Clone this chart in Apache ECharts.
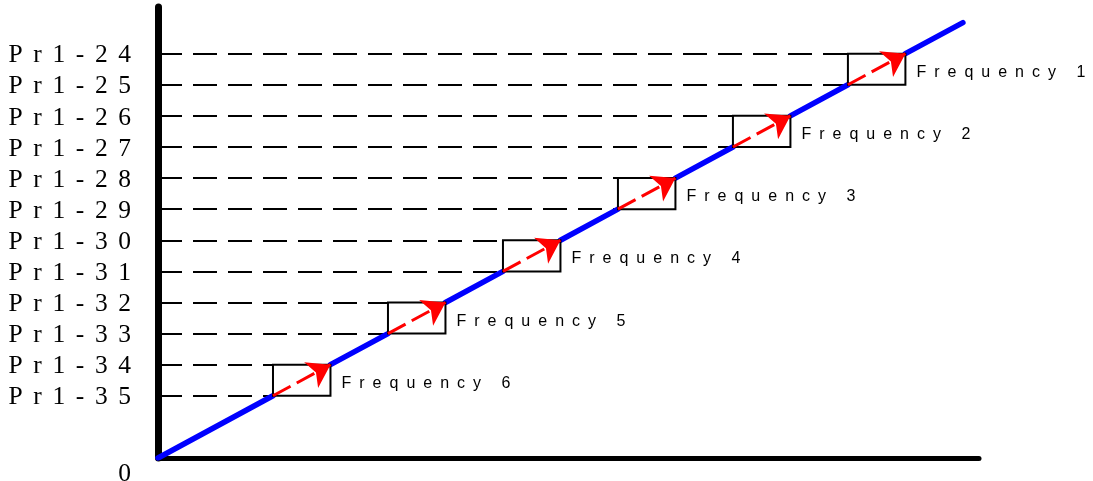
<!DOCTYPE html>
<html>
<head>
<meta charset="utf-8">
<script src="https://cdn.jsdelivr.net/npm/echarts@6/dist/echarts.min.js"></script>
<style>
  html, body { margin: 0; padding: 0; background: #fff; }
  #stepChart { width: 1093px; height: 481px; }
</style>
</head>
<body>
<div id="stepChart"></div>
<script>
// channel levels on the y axis (level 2 = Pr1-35 ... level 13 = Pr1-24)
const yLabels = ['Pr1-35', 'Pr1-34', 'Pr1-33', 'Pr1-32', 'Pr1-31', 'Pr1-30',
                 'Pr1-29', 'Pr1-28', 'Pr1-27', 'Pr1-26', 'Pr1-25', 'Pr1-24'];
const yLevels = [2, 3, 4, 5, 6, 7, 8, 9, 10, 11, 12, 13];
// lower level of each frequency step box
const boxLow = [2, 4, 6, 8, 10, 12];
const freqNames = ['Frequency 6', 'Frequency 5', 'Frequency 4', 'Frequency 3', 'Frequency 2', 'Frequency 1'];
const rampEnd = 14;

const serifFont = '"Liberation Serif", "Times New Roman", serif';

// wide letter spacing like the original drawing
function spaced(s, gap) {
    return s.split('').join(gap);
}

// blue ramp, broken where the step boxes sit
let blueSegs = [];
let start = 0;
boxLow.forEach(function (L) {
    blueSegs.push({ coords: [[start, start], [L, L]] });
    start = L + 1;
});
blueSegs.push({ coords: [[start, start], [rampEnd, rampEnd]] });

// dashed guides from the axis to the left side of the matching box
let guides = yLevels.map(function (v) {
    let left = boxLow.filter(function (L) { return L <= v; }).pop();
    return { coords: [[0, v], [left, v]] };
});

// red arrows across each box
let arrows = boxLow.map(function (L) {
    return { coords: [[L, L], [L + 1, L + 1]] };
});

let myChart = echarts.init(document.getElementById('stepChart'));
myChart.setOption({
    animation: false,
    grid: { left: 158, right: 114, top: 7, bottom: 23, outerBoundsMode: 'none', containLabel: false },
    xAxis: {
        type: 'value',
        min: 0,
        max: 14.28,
        axisLine: { lineStyle: { color: '#000', width: 5 } },
        axisTick: { show: false },
        axisLabel: { show: false },
        splitLine: { show: false }
    },
    yAxis: {
        type: 'value',
        min: 0,
        max: 14.5,
        interval: 1,
        axisLine: { show: true, lineStyle: { color: '#000', width: 7 } },
        axisTick: { show: false },
        splitLine: { show: false },
        axisLabel: {
            margin: 27,
            color: '#000',
            fontFamily: serifFont,
            fontSize: 25.5,
            formatter: function (v) {
                if (v === 0) return '{z|0}';
                let i = yLevels.indexOf(v);
                return i >= 0 ? '{p|' + spaced(yLabels[i], '\u2005\u2006') + '}' : '';
            },
            rich: {
                p: { padding: [4, 0, 0, 0], color: '#000', fontFamily: serifFont, fontSize: 25.5 },
                z: { padding: [32, 0, 0, 0], color: '#000', fontFamily: serifFont, fontSize: 25.5 }
            }
        }
    },
    series: [{
        name: 'guides',
        type: 'lines',
        coordinateSystem: 'cartesian2d',
        z: 2,
        lineStyle: { color: '#000', width: 2, type: [24, 11], opacity: 1 },
        data: guides
    }, {
        name: 'ramp',
        type: 'lines',
        coordinateSystem: 'cartesian2d',
        z: 3,
        lineStyle: { color: '#0000ff', width: 5.5, opacity: 1, cap: 'round' },
        data: blueSegs
    }, {
        name: 'boxes',
        type: 'custom',
        z: 4,
        renderItem: function (params, api) {
            let L = api.value(0);
            let p0 = api.coord([L, L]);
            let p1 = api.coord([L + 1, L + 1]);
            let t = api.coord([L + 1, L + 0.4]);
            return {
                type: 'group',
                children: [{
                    type: 'rect',
                    shape: { x: p0[0], y: p1[1], width: p1[0] - p0[0], height: p0[1] - p1[1] },
                    style: { fill: 'none', stroke: '#000', lineWidth: 2 }
                }, {
                    type: 'text',
                    x: t[0] + 11,
                    y: t[1],
                    style: {
                        text: spaced(freqNames[params.dataIndex], '\u2005\u2005'),
                        fill: '#000',
                        font: '16px "Liberation Sans", Arial, sans-serif',
                        align: 'left',
                        verticalAlign: 'middle'
                    }
                }]
            };
        },
        data: boxLow.map(function (L) { return [L, L]; })
    }, {
        name: 'arrows',
        type: 'lines',
        coordinateSystem: 'cartesian2d',
        z: 5,
        symbol: ['none', 'arrow'],
        symbolSize: [16, 22],
        lineStyle: { color: '#ff0000', width: 3, type: [20, 7], opacity: 1 },
        data: arrows
    }]
});
</script>
</body>
</html>
